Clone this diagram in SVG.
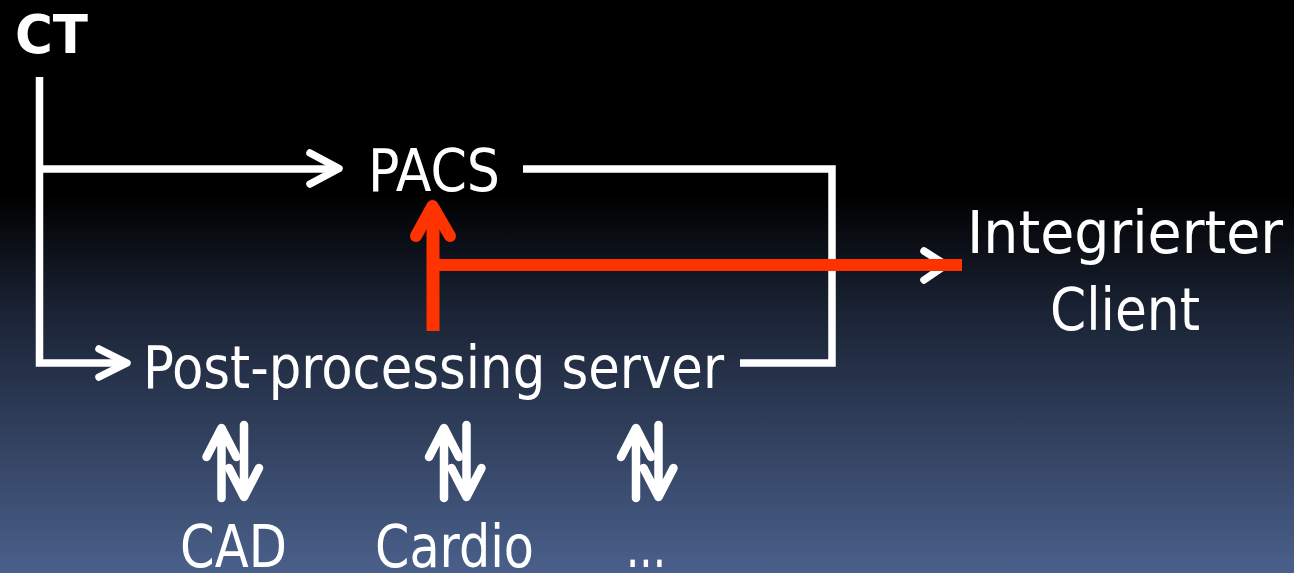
<svg xmlns="http://www.w3.org/2000/svg" width="1294" height="573" viewBox="0 0 1294 573">
  <defs>
    <linearGradient id="bg" x1="0" y1="0" x2="0" y2="573" gradientUnits="userSpaceOnUse">
      <stop offset="0" stop-color="#000000"/>
      <stop offset="0.34" stop-color="#000000"/>
      <stop offset="0.55" stop-color="#1b2436"/>
      <stop offset="1" stop-color="#4a608b"/>
    </linearGradient>
    <!-- up/down exchange arrows, reused under the server -->
    <g id="updown">
      <path class="wa" d="M0,498 V430 M-15,457 L0,428 L15,457"/>
      <path class="wa" d="M22.5,425 V494 M7.5,468 L22.5,497 L37.5,468"/>
    </g>
  </defs>
  <style>
    .w { fill: none; stroke: #ffffff; stroke-width: 7.5; stroke-linecap: round; stroke-linejoin: round; }
    .wa { fill: none; stroke: #ffffff; stroke-width: 8.5; stroke-linecap: round; stroke-linejoin: round; }
    .wl { fill: none; stroke: #ffffff; stroke-width: 7.5; stroke-linecap: butt; stroke-linejoin: miter; }
    .r { fill: none; stroke: #ff3300; stroke-linecap: butt; }
    .rh { fill: none; stroke: #ff3300; stroke-width: 12; stroke-linecap: round; stroke-linejoin: round; }
    text { fill: #ffffff; font-family: "DejaVu Sans Condensed", "DejaVu Sans", sans-serif; font-size: 58px; }
    .bold { font-weight: bold; font-size: 54px; }
  </style>

  <rect width="1294" height="573" fill="url(#bg)"/>

  <g id="connectors">
    <!-- CT trunk to PACS and post-processing server -->
    <path class="wl" d="M39.5,77 V363 H126"/>
    <path class="wl" d="M39.5,169 H338"/>
    <path class="w" d="M310,153 L339,168.5 L310,184"/>
    <path class="w" d="M99,349 L127,363 L99,377"/>
    <!-- PACS and server outputs joined to the client -->
    <path class="wl" d="M523,169 H832 V363 H740"/>
    <path class="w" d="M924,251 L946,265 L924,280"/>
    <!-- server push: up to PACS and across to the client -->
    <path class="r" stroke-width="13" d="M433,331 V206"/>
    <path class="rh" d="M416,236 L432.5,206 L450,236"/>
    <path class="r" stroke-width="12" d="M433,265 H962"/>
    <!-- exchange with the analysis modules -->
    <use href="#updown" x="221.5"/>
    <use href="#updown" x="444"/>
    <use href="#updown" x="636"/>
  </g>

  <g id="ct"><text class="bold" x="15" y="53" textLength="73" lengthAdjust="spacingAndGlyphs">CT</text></g>
  <g id="pacs"><text x="368" y="191" textLength="132" lengthAdjust="spacingAndGlyphs">PACS</text></g>
  <g id="client">
    <text x="967" y="253" textLength="316" lengthAdjust="spacingAndGlyphs">Integrierter</text>
    <text x="1050" y="330" textLength="150" lengthAdjust="spacingAndGlyphs">Client</text>
  </g>
  <g id="server"><text x="143" y="388" textLength="581" lengthAdjust="spacingAndGlyphs">Post-processing server</text></g>
  <g id="cad"><text x="180" y="567" textLength="107" lengthAdjust="spacingAndGlyphs">CAD</text></g>
  <g id="cardio"><text x="375" y="567" textLength="159" lengthAdjust="spacingAndGlyphs">Cardio</text></g>
  <g id="more"><text x="626" y="567" textLength="40" lengthAdjust="spacingAndGlyphs">...</text></g>
</svg>
